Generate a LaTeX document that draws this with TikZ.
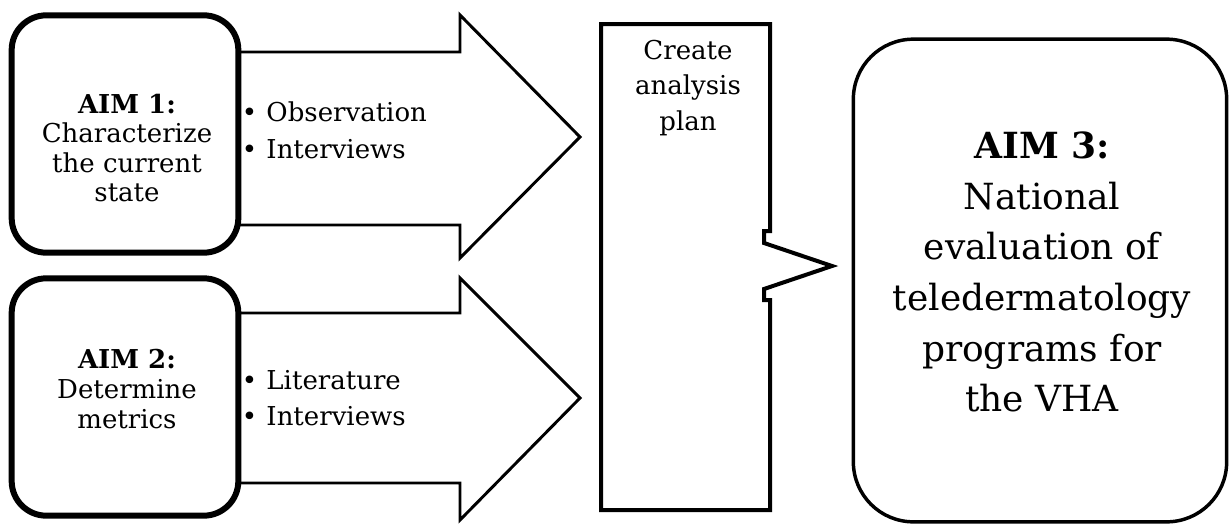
\documentclass[tikz,border=0pt]{standalone}
\usepackage{fontspec}
\setmainfont{DejaVu Serif}
\usetikzlibrary{positioning}

\tikzset{every picture/.style={line width=0.75pt}}
\tikzset{
  aimbox/.style={draw, fill=white, line width=4.5pt, rounded corners=26pt, minimum width=170pt, minimum height=178pt},
  goalbox/.style={draw, fill=white, line width=2.6pt, rounded corners=45pt, minimum width=280pt, minimum height=362pt},
  blockarrow/.style={draw, fill=white, line width=2.2pt, line join=miter},
  calloutline/.style={draw, fill=white, line width=3pt, line join=miter},
  smalltext/.style={inner sep=0pt, align=center, font=\fontsize{19.5}{22.2}\selectfont},
  bullettext/.style={inner sep=0pt, align=left, anchor=west, font=\fontsize{19.5}{27.5}\selectfont},
  plantext/.style={inner sep=0pt, align=center, font=\fontsize{19.5}{26.6}\selectfont},
  bigtext/.style={inner sep=0pt, align=center, font=\fontsize{27}{38}\selectfont}
}
\newcommand{\blt}{•\hspace{7pt}}

\begin{document}
\begin{tikzpicture}[x=0.75pt,y=0.75pt,yscale=-1,xscale=1]
\useasboundingbox (0,0) rectangle (1230,525);

%Block Arrow: aim 1
\draw [blockarrow] (200,52) -- (460,52) -- (460,15) -- (580,137) -- (460,258) -- (460,225) -- (200,225) ;
%Block Arrow: aim 2
\draw [blockarrow] (200,313) -- (460,313) -- (460,278) -- (580,398) -- (460,520) -- (460,483) -- (200,483) ;

%Shape: Rounded Rect (aim 1)
\node [aimbox] (aimA) at (125,134) {};
%Shape: Rounded Rect (aim 2)
\node [aimbox] (aimB) at (125,397) {};

%Shape: Callout
\draw [calloutline] (601,24) -- (770,24) -- (770,231) -- (764,231) -- (764,243) -- (832,266) -- (764,289) -- (764,300) -- (770,300) -- (770,510) -- (601,510) -- cycle ;

%Shape: Rounded Rect (aim 3)
\node [goalbox] (aimC) at (1040,280.5) {};

% Text Node
\node [smalltext] (aimAtxt) at (127,148) {\textbf{AIM 1:}\\Characterize\\the current\\state};
% Text Node
\node [bullettext] (aimAlist) at (aimA.east |- 0,130) {\blt Observation\\\blt Interviews};
% Text Node
\node [smalltext] (aimBtxt) at (127,389) {\textbf{AIM 2:}\\Determine\\metrics};
% Text Node
\node [bullettext] (aimBlist) at (aimB.east |- 0,398) {\blt Literature\\\blt Interviews};
% Text Node
\node [plantext] (plantxt) at (688,88) {Create\\analysis\\plan};
% Text Node
\node [bigtext] (aimCtxt) at (1042,272) {\textbf{AIM 3:}\\National\\evaluation of\\teledermatology\\programs for\\the VHA};

\end{tikzpicture}
\end{document}
